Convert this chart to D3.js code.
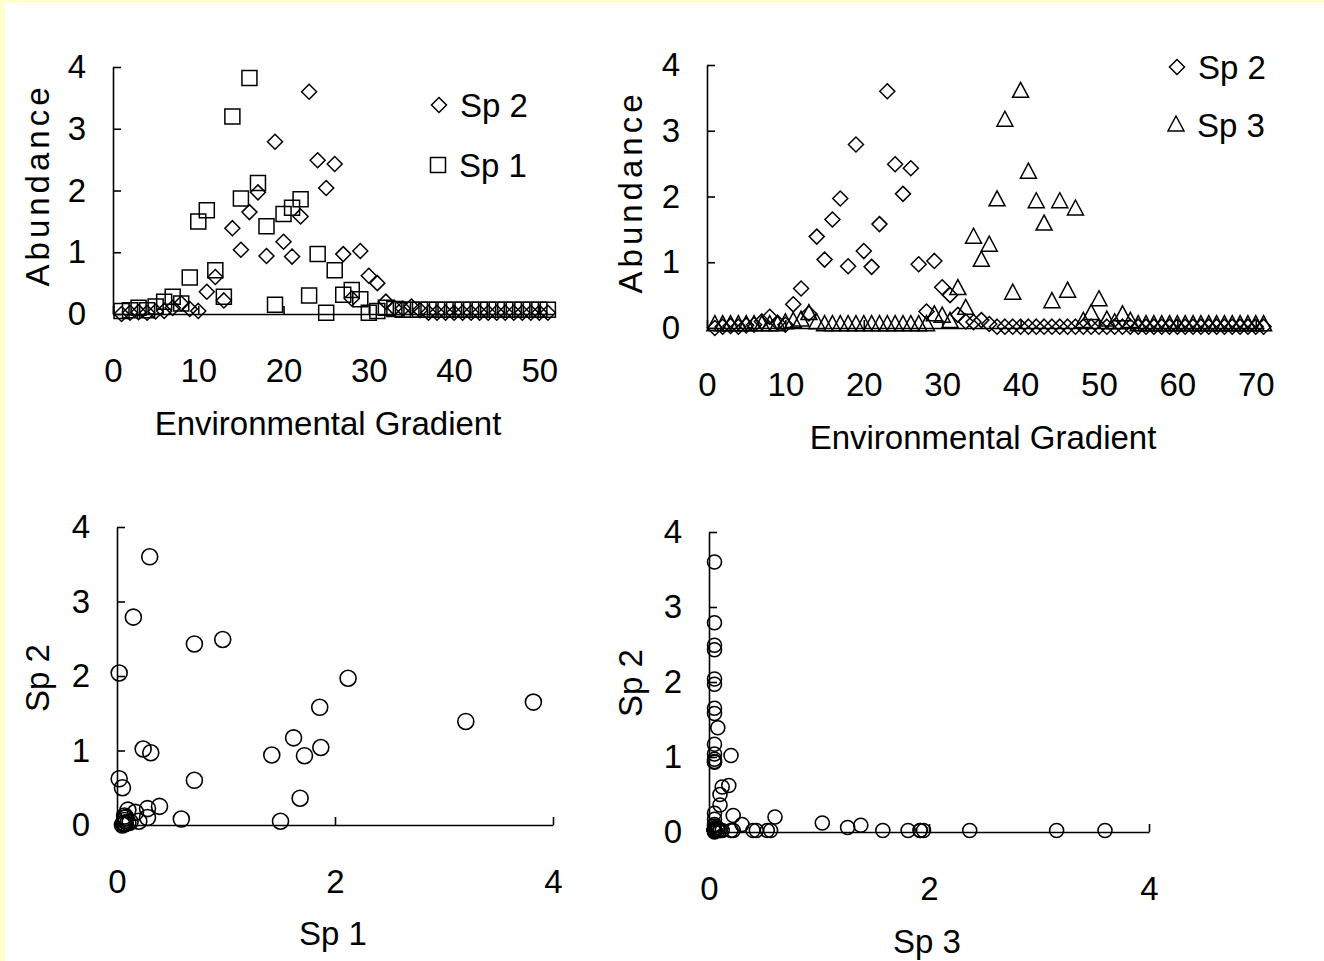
<!DOCTYPE html>
<html>
<head>
<meta charset="utf-8">
<script src="https://cdn.jsdelivr.net/npm/d3@7"></script>
<style>
body { margin: 0; background: #ffffcc; }
text { font-family: "Liberation Sans", Arial, sans-serif; fill: #000; }
</style>
</head>
<body>
<svg id="chart" width="1324" height="961"></svg>
<script>
// position along the environmental gradient
var gradient = [1,2,3,4,5,6,7,8,9,10,11,12,13,14,15,16,17,18,19,20,21,22,23,24,25,26,27,28,29,30,
  31,32,33,34,35,36,37,38,39,40,41,42,43,44,45,46,47,48,49,50,51,52,53,54,55,56,57,58,59,60,
  61,62,63,64,65,66,67,68,69,70,71]

// abundance of each species at each gradient position
var sp1 = [0.05,0.06,0.1,0.06,0.12,0.2,0.28,0.17,0.59,1.5,1.68,0.71,0.28,3.2,1.87,3.82,2.12,1.42,0.15,1.62,
  1.72,1.86,0.3,0.97,0.02,0.71,0.31,0.39,0.24,0.02,0.05,0.1,0.08,0.07,0.07,0.07,0.07,0.07,0.07,0.07,
  0.07,0.07,0.07,0.07,0.07,0.07,0.07,0.07,0.07,0.07,0.07]
var sp2 = [0,0.02,0.03,0.02,0.04,0.05,0.1,0.17,0.08,0.05,0.36,0.6,0.22,1.39,1.04,1.65,1.97,0.94,2.79,1.17,
  0.93,1.58,3.6,2.49,2.04,2.43,0.97,0.25,1.02,0.62,0.5,0.2,0.1,0.09,0.12,0.06,0.02,0.02,0.02,0.02,
  0.02,0.02,0.02,0.02,0.02,0.02,0.02,0.02,0.02,0.02,0.02,0.02,0.02,0.02,0.02,0.02,0.02,0.02,0.02,0.02,
  0.02,0.02,0.02,0.02,0.02,0.02,0.02,0.02,0.02,0.02,0.02]
var sp3 = [0.05,0.05,0.05,0.05,0.05,0.05,0.05,0.05,0.05,0.08,0.1,0.12,0.22,0.08,0.05,0.05,0.05,0.05,0.05,0.05,
  0.05,0.05,0.05,0.05,0.05,0.05,0.05,0.05,0.2,0.18,0.1,0.6,0.3,1.38,1.03,1.26,1.95,3.16,0.53,3.6,
  2.37,1.92,1.58,0.4,1.92,0.56,1.81,0.1,0.22,0.43,0.12,0.08,0.2,0.1,0.05,0.05,0.05,0.05,0.05,0.05,
  0.05,0.05,0.05,0.05,0.05,0.05,0.05,0.05,0.05,0.05,0.05]

var yTicks = [0,1,2,3,4]
var gradTicksA = [0,10,20,30,40,50]
var gradTicksB = [0,10,20,30,40,50,60,70]
var spTicks = [0,2,4]

var svg = d3.select('#chart')
svg.append('rect')
  .attr('x', 5).attr('y', 3)
  .attr('width', 1319).attr('height', 958)
  .attr('fill', '#fff')

function marker(type, cx, cy) {
  if (type == 'square') return 'M' + (cx-7.5) + ',' + (cy-7.5) + 'h15v15h-15Z'
  if (type == 'diamond') return 'M' + cx + ',' + (cy-7.5) + 'l7.5,7.5l-7.5,7.5l-7.5,-7.5Z'
  if (type == 'triangle') return 'M' + cx + ',' + (cy-9) + 'l8,15h-16Z'
}

function styleAxis(g) {
  g.attr('font-size', null).attr('font-family', null)
  g.selectAll('path, line').attr('stroke', '#000').attr('stroke-width', 1.6)
  g.selectAll('text').attr('font-size', 33)
}

function panel(cfg) {
  var x = d3.scaleLinear().domain([0, cfg.xMax]).range([cfg.left, cfg.right])
  var y = d3.scaleLinear().domain([0, 4]).range([cfg.bottom, cfg.top])
  var g = svg.append('g')

  g.append('g')
    .attr('transform', 'translate(0,' + cfg.bottom + ')')
    .call(d3.axisBottom(x).tickValues(cfg.xTicks).tickFormat(d3.format('d'))
      .tickSize(-8).tickSizeOuter(0).tickPadding(45))
    .call(styleAxis)
  g.append('g')
    .attr('transform', 'translate(' + cfg.left + ',0)')
    .call(d3.axisLeft(y).tickValues(yTicks).tickFormat(d3.format('d'))
      .tickSize(-8).tickSizeOuter(0).tickPadding(27))
    .call(styleAxis)

  cfg.series.forEach(function(s) {
    if (s.type == 'circle') {
      g.append('g').selectAll('circle')
        .data(s.pts).enter().append('circle')
        .attr('cx', function(d) { return x(d[0]) })
        .attr('cy', function(d) { return y(d[1]) })
        .attr('r', s.r)
        .attr('fill', 'none').attr('stroke', '#000').attr('stroke-width', 1.6)
    } else {
      g.append('g').selectAll('path')
        .data(s.pts).enter().append('path')
        .attr('d', function(d) { return marker(s.type, x(d[0]), y(d[1])) })
        .attr('fill', 'none').attr('stroke', '#000').attr('stroke-width', 1.5)
    }
  })

  g.append('text')
    .attr('x', cfg.xTitle[0]).attr('y', cfg.xTitle[1])
    .attr('text-anchor', 'middle').attr('font-size', 33)
    .text(cfg.xLabel)
  g.append('text')
    .attr('transform', 'translate(' + cfg.yTitle[0] + ',' + cfg.yTitle[1] + ') rotate(-90)')
    .attr('text-anchor', 'middle').attr('font-size', 33)
    .attr('letter-spacing', cfg.yLabel == 'Abundance' ? 4 : 0)
    .text(cfg.yLabel)

  ;(cfg.legend || []).forEach(function(l) {
    g.append('path')
      .attr('d', marker(l.type, l.x, l.y))
      .attr('fill', 'none').attr('stroke', '#000').attr('stroke-width', 1.5)
    g.append('text')
      .attr('x', l.x + 21).attr('y', l.y + 12)
      .attr('font-size', 33)
      .text(l.name)
  })
}

function pairs(xs, ys) {
  return xs.map(function(v, i) { return [v, ys[i]] })
}

var gradA = gradient.slice(0, sp1.length)

panel({
  left: 113, right: 553, top: 67, bottom: 314, xMax: 51.6, xTicks: gradTicksA,
  series: [
    {type: 'diamond', pts: pairs(gradA, sp2)},
    {type: 'square', pts: pairs(gradA, sp1)}
  ],
  xLabel: 'Environmental Gradient', xTitle: [328, 435],
  yLabel: 'Abundance', yTitle: [49, 185],
  legend: [
    {type: 'diamond', name: 'Sp 2', x: 439, y: 105},
    {type: 'square', name: 'Sp 1', x: 438, y: 165}
  ]
})

panel({
  left: 707, right: 1264, top: 65, bottom: 328, xMax: 71.05, xTicks: gradTicksB,
  series: [
    {type: 'diamond', pts: pairs(gradient, sp2)},
    {type: 'triangle', pts: pairs(gradient, sp3)}
  ],
  xLabel: 'Environmental Gradient', xTitle: [983, 449],
  yLabel: 'Abundance', yTitle: [642, 192],
  legend: [
    {type: 'diamond', name: 'Sp 2', x: 1177, y: 67},
    {type: 'triangle', name: 'Sp 3', x: 1176, y: 125}
  ]
})

panel({
  left: 117, right: 553, top: 527, bottom: 825, xMax: 4, xTicks: spTicks,
  series: [{type: 'circle', r: 8, pts: pairs(sp1, sp2)}],
  xLabel: 'Sp 1', xTitle: [333, 945],
  yLabel: 'Sp 2', yTitle: [49, 678]
})

panel({
  left: 709, right: 1149, top: 532, bottom: 832, xMax: 4, xTicks: spTicks,
  series: [{type: 'circle', r: 7, pts: pairs(sp3, sp2)}],
  xLabel: 'Sp 3', xTitle: [927, 953],
  yLabel: 'Sp 2', yTitle: [642, 683]
})
</script>
</body>
</html>
